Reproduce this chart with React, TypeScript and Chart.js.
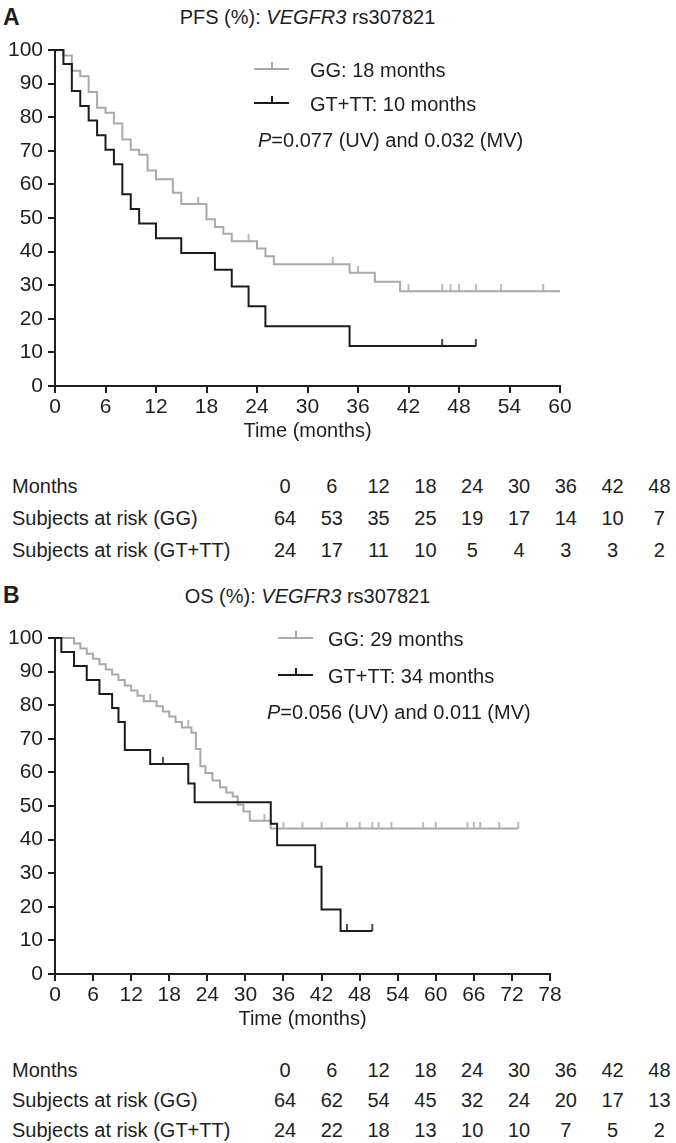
import React, { useEffect, useRef } from 'react';
import { Chart, registerables } from 'chart.js';

Chart.register(...registerables);

// ---------- DATA ----------
// PFS (panel A)
const pfsGGTimes = [0, 1, 2, 3, 4, 5, 6, 7, 8, 9, 10, 11, 12, 14, 15, 18, 19, 20, 21, 24, 25, 26, 35, 38, 41, 60];
const pfsGGValues = [100, 98.4, 93.8, 92.2, 87.5, 82.8, 81.3, 78.1, 73.4, 70.3, 68.8, 64.1, 61.5, 57.5, 54.2, 49.6, 47.3, 45.3, 43.1, 40.9, 38.6, 36.2, 33.7, 31.0, 28.2, 28.2];
const pfsGGCensor = [17, 23, 33, 36, 42, 46, 47, 48, 50, 53, 58];

const pfsGTTimes = [0, 1, 2, 3, 4, 5, 6, 7, 8, 9, 10, 12, 15, 19, 21, 23, 25, 35, 50];
const pfsGTValues = [100, 95.8, 87.8, 83.3, 79.0, 74.6, 70.3, 66.0, 57.1, 52.7, 48.4, 44.0, 39.6, 34.6, 29.6, 23.7, 17.8, 11.9, 11.9];
const pfsGTCensor = [46, 50];

// OS (panel B)
const osGGTimes = [0, 3, 4, 5, 6, 7, 8, 9, 10, 11, 12, 13, 14, 16, 17, 18, 19, 20, 21.5, 22.2, 22.9, 23.7, 24.8, 26, 27, 28, 28.8, 29.7, 30.7, 34, 73];
const osGGValues = [100, 98.4, 96.9, 95.3, 93.8, 92.2, 90.6, 89.1, 87.5, 85.9, 84.4, 82.8, 81.2, 79.7, 78.1, 76.6, 75.0, 73.4, 71.8, 67.0, 61.8, 59.8, 57.6, 55.6, 54.0, 52.8, 50.4, 48.4, 45.6, 43.3, 43.3];
const osGGCensor = [15, 21, 33, 36, 39, 42, 46, 48, 50, 51, 53, 58, 60, 65, 66, 67, 70, 73];

const osGTTimes = [0, 1, 3, 5, 7, 9, 10, 11, 15, 21, 22, 34, 35, 41, 42, 45, 50];
const osGTValues = [100, 95.8, 91.7, 87.5, 83.3, 79.2, 75.0, 66.7, 62.5, 56.7, 51.1, 44.7, 38.3, 31.9, 19.2, 12.8, 12.8];
const osGTCensor = [17, 46, 50];

// Numbers at risk
const riskMonths = [0, 6, 12, 18, 24, 30, 36, 42, 48];
const pfsRiskGG = [64, 53, 35, 25, 19, 17, 14, 10, 7];
const pfsRiskGT = [24, 17, 11, 10, 5, 4, 3, 3, 2];
const osRiskGG = [64, 62, 54, 45, 32, 24, 20, 17, 13];
const osRiskGT = [24, 22, 18, 13, 10, 10, 7, 5, 2];

// ---------- STYLE ----------
const FONT = "'Liberation Sans', Arial, Helvetica, sans-serif";
const GREY = '#a9a9a9';
const BLACK = '#1c1c1c';
const TEXT = '#1e1e1e';

function stepAt(times: number[], values: number[], t: number) {
  let v = values[0];
  for (let i = 0; i < times.length; i++) {
    if (times[i] <= t) v = values[i];
  }
  return v;
}

function makeTick(color: string) {
  const c = document.createElement('canvas');
  c.width = 4;
  c.height = 14;
  const ctx = c.getContext('2d')!;
  ctx.strokeStyle = color;
  ctx.lineWidth = 1.6;
  ctx.beginPath();
  ctx.moveTo(2, 0);
  ctx.lineTo(2, 7);
  ctx.stroke();
  return c;
}

type KMProps = {
  top: number;
  xMax: number;
  plotRight: number;
  ggT: number[];
  ggV: number[];
  ggC: number[];
  gtT: number[];
  gtV: number[];
  gtC: number[];
};

function KMChart({ top, xMax, plotRight, ggT, ggV, ggC, gtT, gtV, gtC }: KMProps) {
  const ref = useRef<HTMLCanvasElement | null>(null);
  useEffect(() => {
    if (!ref.current) return;
    const tickGrey = makeTick(GREY);
    const tickBlack = makeTick(BLACK);
    const curve = (times: number[], values: number[], color: string, order: number) => ({
      type: 'line',
      data: times.map((t, i) => ({ x: t, y: values[i] })),
      borderColor: color,
      borderWidth: 2,
      stepped: true,
      pointRadius: 0,
      fill: false,
      clip: false,
      order,
    });
    const cens = (c: number[], times: number[], values: number[], img: HTMLCanvasElement, order: number) => ({
      type: 'line',
      data: c.map((t) => ({ x: t, y: stepAt(times, values, t) })),
      showLine: false,
      pointStyle: img,
      pointRadius: 7,
      clip: false,
      order,
    });
    const axisFont = { size: 21, family: FONT };
    const chart = new Chart(ref.current, {
      type: 'line',
      data: {
        datasets: [
          curve(gtT, gtV, BLACK, 0),
          cens(gtC, gtT, gtV, tickBlack, 1),
          curve(ggT, ggV, GREY, 2),
          cens(ggC, ggT, ggV, tickGrey, 3),
        ] as any,
      },
      options: {
        responsive: false,
        animation: false,
        layout: { padding: { top: 50, right: 676 - plotRight, left: 0, bottom: 0 } },
        plugins: { legend: { display: false }, tooltip: { enabled: false } },
        scales: {
          x: {
            type: 'linear',
            min: 0,
            max: xMax,
            afterFit: (s: any) => {
              s.height = 64;
            },
            ticks: { stepSize: 6, color: TEXT, font: axisFont, padding: 2, maxRotation: 0, autoSkip: false },
            grid: { drawOnChartArea: false, drawTicks: true, tickLength: 7, color: TEXT, lineWidth: 2 },
            border: { color: TEXT, width: 2 },
            title: { display: true, text: 'Time (months)', color: TEXT, font: { size: 20, family: FONT }, padding: { top: 0, bottom: 7 } },
          },
          y: {
            min: 0,
            max: 100,
            afterFit: (s: any) => {
              s.width = 55;
            },
            ticks: { stepSize: 10, color: TEXT, font: axisFont, padding: 5 },
            grid: { drawOnChartArea: false, drawTicks: true, tickLength: 7, color: TEXT, lineWidth: 2 },
            border: { color: TEXT, width: 2 },
          },
        },
      } as any,
    });
    return () => chart.destroy();
  }, []);
  return (
    <canvas
      ref={ref}
      width={676}
      height={450}
      style={{ position: 'absolute', left: 0, top, width: 676, height: 450 }}
    />
  );
}

const txt = (extra: React.CSSProperties): React.CSSProperties => ({
  position: 'absolute',
  fontFamily: FONT,
  fontSize: 20,
  lineHeight: '24px',
  color: TEXT,
  whiteSpace: 'nowrap',
  ...extra,
});

function LegendSample({ left, y, color }: { left: number; y: number; color: string }) {
  return (
    <div style={{ position: 'absolute', left, top: y - 1, width: 35, height: 2, background: color }}>
      <div style={{ position: 'absolute', left: 17, top: -6, width: 1.6, height: 6, background: color }} />
    </div>
  );
}

function RiskTable({ y0, gap, gg, gt }: { y0: number; gap: number; gg: number[]; gt: number[] }) {
  const rows: [string, number[]][] = [
    ['Months', riskMonths],
    ['Subjects at risk (GG)', gg],
    ['Subjects at risk (GT+TT)', gt],
  ];
  return (
    <>
      {rows.map(([label, vals], r) => (
        <React.Fragment key={label}>
          <div style={txt({ left: 12, top: y0 + r * gap - 12 })}>{label}</div>
          {vals.map((v, i) => (
            <div
              key={i}
              style={txt({ left: 285 + i * 46.8 - 25, top: y0 + r * gap - 12, width: 50, textAlign: 'center' })}
            >
              {v}
            </div>
          ))}
        </React.Fragment>
      ))}
    </>
  );
}

export default function App() {
  return (
    <div style={{ position: 'absolute', left: 0, top: 0, width: 676, height: 1143, background: '#fff', overflow: 'hidden' }}>
      {/* Panel A */}
      <div style={txt({ left: 3, top: 4, fontWeight: 'bold', fontSize: 23, lineHeight: '26px' })}>A</div>
      <div style={txt({ left: 55, top: 5, width: 505, textAlign: 'center' })}>
        PFS (%): <i>VEGFR3</i> rs307821
      </div>
      <KMChart
        top={0}
        xMax={60}
        plotRight={560}
        ggT={pfsGGTimes}
        ggV={pfsGGValues}
        ggC={pfsGGCensor}
        gtT={pfsGTTimes}
        gtV={pfsGTValues}
        gtC={pfsGTCensor}
      />
      <LegendSample left={254} y={69} color={GREY} />
      <div style={txt({ left: 310, top: 58 })}>GG: 18 months</div>
      <LegendSample left={254} y={103} color={BLACK} />
      <div style={txt({ left: 310, top: 92 })}>GT+TT: 10 months</div>
      <div style={txt({ left: 258, top: 128 })}>
        <i>P</i>=0.077 (UV) and 0.032 (MV)
      </div>
      <RiskTable y0={486} gap={32} gg={pfsRiskGG} gt={pfsRiskGT} />

      {/* Panel B */}
      <div style={txt({ left: 3, top: 582, fontWeight: 'bold', fontSize: 23, lineHeight: '26px' })}>B</div>
      <div style={txt({ left: 55, top: 584, width: 505, textAlign: 'center' })}>
        OS (%): <i>VEGFR3</i> rs307821
      </div>
      <KMChart
        top={588}
        xMax={78}
        plotRight={550}
        ggT={osGGTimes}
        ggV={osGGValues}
        ggC={osGGCensor}
        gtT={osGTTimes}
        gtV={osGTValues}
        gtC={osGTCensor}
      />
      <LegendSample left={278} y={638} color={GREY} />
      <div style={txt({ left: 328, top: 627 })}>GG: 29 months</div>
      <LegendSample left={278} y={675} color={BLACK} />
      <div style={txt({ left: 328, top: 664 })}>GT+TT: 34 months</div>
      <div style={txt({ left: 267, top: 700 })}>
        <i>P</i>=0.056 (UV) and 0.011 (MV)
      </div>
      <RiskTable y0={1070} gap={30} gg={osRiskGG} gt={osRiskGT} />
    </div>
  );
}
